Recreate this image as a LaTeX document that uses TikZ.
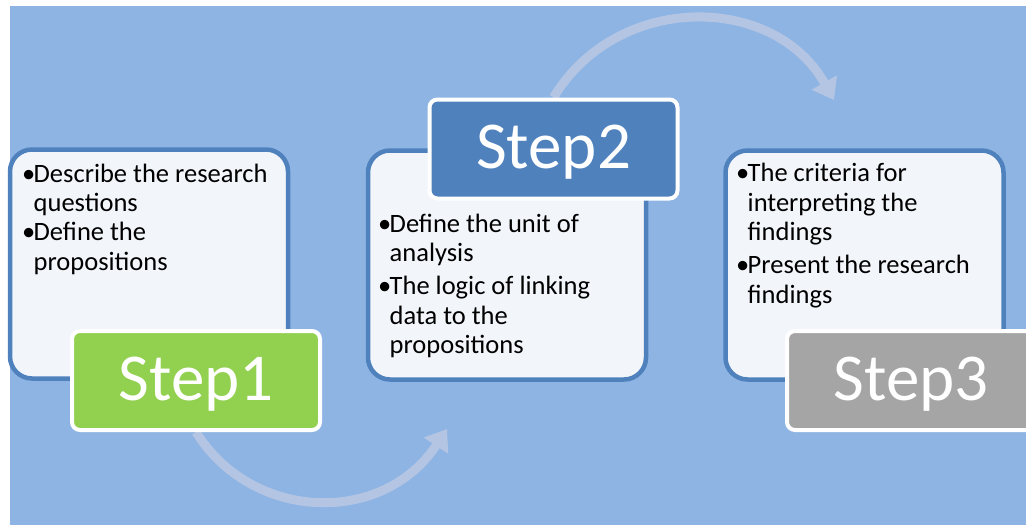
\documentclass[tikz,border=0pt]{standalone}
\usepackage{fontspec}
\setmainfont{Carlito}
\usetikzlibrary{arrows.meta,backgrounds}
\definecolor{bgblue}{RGB}{142,180,227}
\definecolor{boxborder}{RGB}{79,129,189}
\definecolor{boxfill}{RGB}{242,245,250}
\definecolor{greenstep}{RGB}{146,208,80}
\definecolor{bluestep}{RGB}{79,129,189}
\definecolor{graystep}{RGB}{165,165,165}
\definecolor{arrowcol}{RGB}{180,197,228}
\newcommand\stepbullet{\makebox[11.5pt][l]{\textbullet}}
\begin{document}
\begin{tikzpicture}[x=1pt,y=-1pt,
  panel/.style={draw=boxborder, line width=4.5pt, fill=boxfill, rounded corners=22pt,
    minimum width=278pt, minimum height=229pt, inner sep=0pt},
  stepbox/.style={draw=white, line width=4pt, rounded corners=8pt, text=white,
    minimum width=248pt, minimum height=99pt, inner sep=0pt,
    font=\fontsize{67}{70}\selectfont, text height=39pt, text depth=0pt},
  bodytext/.style={anchor=base west, inner sep=0pt, font=\fontsize{26.5}{30}\selectfont, text=black},
  flowarrow/.style={draw=arrowcol, line width=9pt, -{Triangle[width=28pt,length=20pt]}}]
\useasboundingbox (0,0) rectangle (1026,525);

% panels
\node[panel] (p1) at (149,264) {};
\node[stepbox, fill=greenstep] (s1) at (196,380.5) {Step1};
\node[panel] (p2) at (507,265) {};
\node[stepbox, fill=bluestep] (s2) at (553.5,149) {Step2};
\node[panel] (p3) at (864.5,265) {};
\node[stepbox, fill=graystep] (s3) at (911,380.5) {Step3};

% texts
\node[bodytext] (t1a) at (22,182) {\stepbullet Describe the research};
\node[bodytext] (t1b) at (33.5,211) {questions};
\node[bodytext] (t1c) at (22,240) {\stepbullet Define the};
\node[bodytext] (t1d) at (33.5,270) {propositions};

\node[bodytext] (t2a) at (378,232) {\stepbullet Define the unit of};
\node[bodytext] (t2b) at (389.5,261) {analysis};
\node[bodytext] (t2c) at (378,294) {\stepbullet The logic of linking};
\node[bodytext] (t2d) at (389.5,324) {data to the};
\node[bodytext] (t2e) at (389.5,353) {propositions};

\node[bodytext] (t3a) at (736,181.5) {\stepbullet The criteria for};
\node[bodytext] (t3b) at (747.5,211) {interpreting the};
\node[bodytext] (t3c) at (747.5,240) {findings};
\node[bodytext] (t3d) at (736,273) {\stepbullet Present the research};
\node[bodytext] (t3e) at (747.5,303) {findings};

\coordinate (tip1) at (447,429);
\coordinate (tip2) at (834,100);

\begin{scope}[on background layer]
  \fill[white] (0,0) rectangle (1026,525);
  \fill[bgblue] (10,6) rectangle (1026,525);
  \draw[flowarrow] (s1.south) .. controls (252,522) and (383,526) .. (tip1);
  \draw[flowarrow] (s2.north) .. controls (617,-8) and (774,-7) .. (tip2);
\end{scope}
\end{tikzpicture}
\end{document}
